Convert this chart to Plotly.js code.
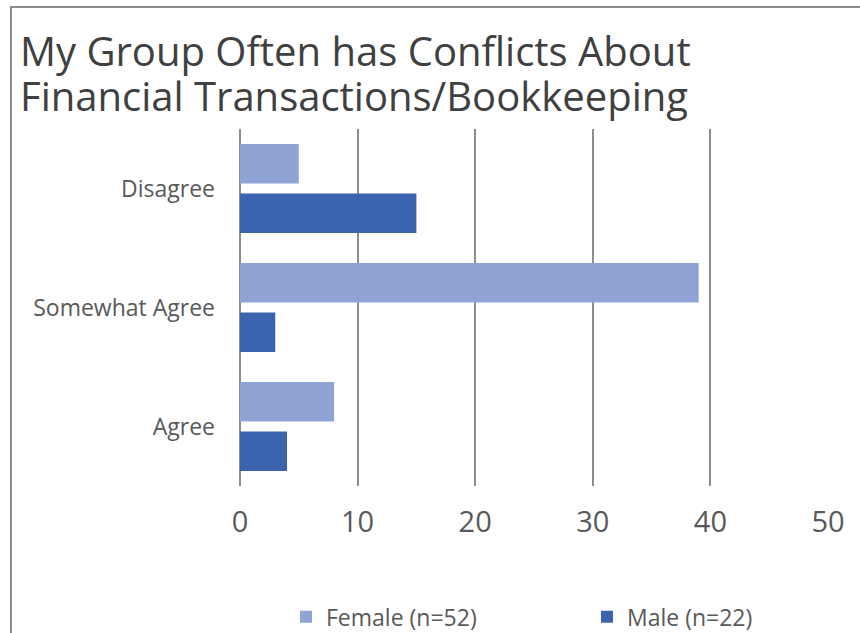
<!DOCTYPE html>
<html>
<head>
<meta charset="utf-8">
<script src="https://cdn.plot.ly/plotly-3.0.1.min.js"></script>
<style>
  html, body { margin: 0; padding: 0; background: #fff; }
  #wrap { position: relative; width: 860px; height: 633px; overflow: hidden; }
  #chart { position: absolute; left: 0; top: 0; width: 860px; height: 633px; }
  #frame { position: absolute; left: 10px; top: 6px; width: 900px; height: 700px;
           border-left: 2px solid #8c8c8c; border-top: 2px solid #8c8c8c; pointer-events: none; }
</style>
</head>
<body>
<div id="wrap">
  <div id="chart"></div>
  <div id="frame"></div>
</div>
<script>
const categories = ["Disagree", "Somewhat Agree", "Agree"];
const femaleValues = [5, 39, 8];
const maleValues = [15, 3, 4];
const seriesNames = ["Female (n=52)", "Male (n=22)"];
const xTicks = [0, 10, 20, 30, 40, 50];
const titleLines = ["My Group Often has Conflicts About", "Financial Transactions/Bookkeeping"];

const FONT = "Open Sans, Noto Sans, sans-serif";

const traces = [
  {
    type: "bar", orientation: "h",
    name: seriesNames[0],
    y: categories, x: femaleValues,
    marker: { color: "#8FA3D5" },
    legend: "legend",
    hoverinfo: "x+name"
  },
  {
    type: "bar", orientation: "h",
    name: seriesNames[1],
    y: categories, x: maleValues,
    marker: { color: "#3C64AE" },
    legend: "legend2",
    hoverinfo: "x+name"
  }
];

const legendBase = {
  orientation: "h",
  xref: "container", yref: "container",
  xanchor: "left", yanchor: "middle",
  y: 1 - 616.7 / 633,
  font: { family: FONT, size: 23, color: "#595959" },
  bgcolor: "rgba(0,0,0,0)"
};

const titleFont = { family: FONT, size: 40, color: "#404040" };

const layout = {
  width: 860, height: 633,
  paper_bgcolor: "rgba(0,0,0,0)",
  plot_bgcolor: "rgba(0,0,0,0)",
  margin: { l: 240, r: 31.5, t: 129.4, b: 147.1, pad: 0, autoexpand: false },
  barmode: "group",
  bargap: 0.167,
  bargroupgap: 0.2,
  font: { family: FONT, color: "#595959" },
  annotations: [
    {
      text: titleLines[0], showarrow: false,
      xref: "paper", yref: "paper",
      x: (18 - 240) / 588.5, xanchor: "left",
      y: 1 + (129.4 - 51) / 356.5, yanchor: "middle",
      font: titleFont
    },
    {
      text: titleLines[1], showarrow: false,
      xref: "paper", yref: "paper",
      x: (18 - 240) / 588.5, xanchor: "left",
      y: 1 + (129.4 - 96) / 356.5, yanchor: "middle",
      font: titleFont
    }
  ],
  xaxis: {
    range: [0, 50],
    tickvals: xTicks,
    ticktext: xTicks.map(String),
    showgrid: true, gridcolor: "#8c8c8c", gridwidth: 2,
    zeroline: true, zerolinecolor: "#8c8c8c", zerolinewidth: 2,
    showline: false, ticks: "",
    tickfont: { family: FONT, size: 29, color: "#595959" },
    ticklabelstandoff: 16,
    automargin: false,
    fixedrange: true
  },
  yaxis: {
    categoryorder: "array",
    categoryarray: categories,
    autorange: "reversed",
    showgrid: false, zeroline: false, showline: false, ticks: "",
    tickfont: { family: FONT, size: 23, color: "#595959" },
    ticklabelstandoff: 24,
    automargin: false,
    fixedrange: true
  },
  legend: Object.assign({}, legendBase, { x: 286 / 860 }),
  legend2: Object.assign({}, legendBase, { x: 587 / 860 }),
  showlegend: true
};

Plotly.newPlot("chart", traces, layout, { displayModeBar: false, staticPlot: true });
</script>
</body>
</html>
